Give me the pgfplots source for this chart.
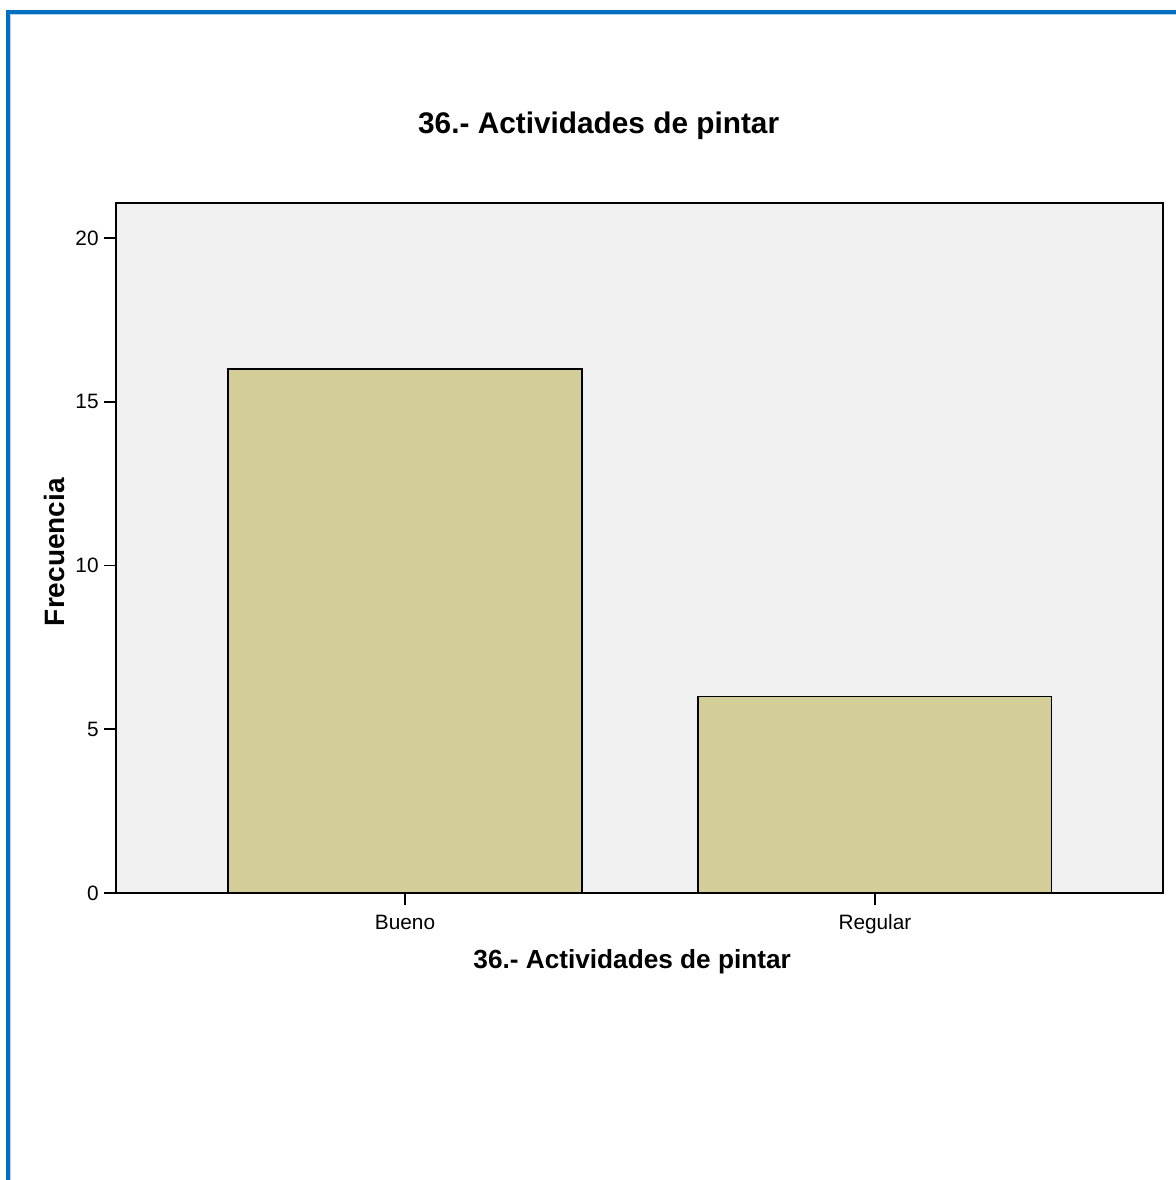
\documentclass[border=0pt]{standalone}
\usepackage{pgfplots}
\pgfplotsset{compat=1.18}
\usepackage{fontspec}
\setmainfont{Liberation Sans}
\definecolor{barcol}{RGB}{211,206,151}
\definecolor{bgcol}{RGB}{240,240,240}
\definecolor{framecol}{RGB}{0,112,192}
\definecolor{framelight}{RGB}{180,210,235}
\begin{document}
\begin{tikzpicture}
\useasboundingbox (0,0) rectangle (588pt,590pt);
\draw[framecol, line width=2pt] (4pt,0) -- (4pt,584pt) -- (588pt,584pt);
\draw[framelight, line width=0.5pt] (5.25pt,0) -- (5.25pt,582.75pt) -- (588pt,582.75pt);
\begin{axis}[
  at={(58pt,143.5pt)}, anchor=south west,
  scale only axis, width=523.5pt, height=345pt,
  axis background/.style={fill=bgcol},
  axis line style={line width=0.8pt, black},
  xmin=-0.615, xmax=1.613, ymin=0, ymax=21.07,
  xtick={0,1}, xticklabels={Bueno,Regular},
  ytick={0,5,10,15,20},
  tick pos=left, tick align=outside,
  major tick length=6pt,
  tick style={line width=0.8pt, black},
  /pgf/number format/assume math mode=true,
  ticklabel style={font=\fontsize{10.4}{12}\selectfont},
  xticklabel style={anchor=base, inner sep=0pt, yshift=-12pt},
  yticklabel style={anchor=east, inner sep=0pt, xshift=-2.5pt},
  title={36.- Actividades de pintar},
  title style={at={(0.461,1.106)}, anchor=base, yshift=-8pt, font=\bfseries\fontsize{14.9}{17}\selectfont},
  xlabel={36.- Actividades de pintar},
  xlabel style={at={(axis description cs:0.493,-0.1087)}, anchor=base, font=\bfseries\fontsize{13.1}{15}\selectfont},
  ylabel={Frecuencia},
  ylabel style={at={(axis description cs:-0.0583,0.494)}, anchor=center, font=\bfseries\fontsize{14}{16}\selectfont},
  ybar, bar width=0.7525,
]
\addplot[fill=barcol, draw=black, line width=0.7pt] coordinates {(0,16) (1,6)};
\end{axis}
\end{tikzpicture}
\end{document}
